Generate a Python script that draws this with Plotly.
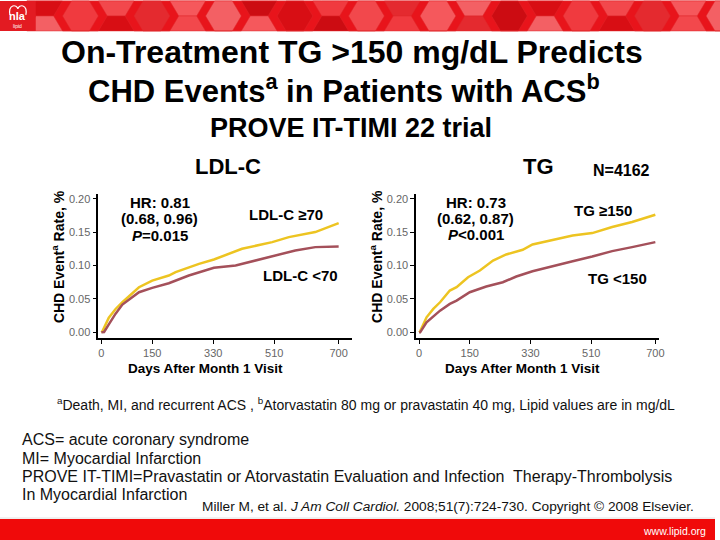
import plotly.graph_objects as go

# ---------------- data ----------------
ldl_ge70_days = [0, 3, 22, 42, 62, 91, 111, 150, 199, 219, 258, 288, 332, 415, 504, 553, 631, 700]
ldl_ge70_rate = [0.0, 0.0015, 0.022, 0.035, 0.045, 0.058, 0.0675, 0.0775, 0.085, 0.09, 0.097, 0.1025, 0.109, 0.125, 0.135, 0.1425, 0.15, 0.1635]

ldl_lt70_days = [0, 8, 22, 42, 62, 91, 111, 150, 199, 258, 332, 396, 455, 513, 572, 631, 700]
ldl_lt70_rate = [0.0, 0.0005, 0.012, 0.028, 0.0415, 0.052, 0.06, 0.0665, 0.0735, 0.085, 0.0965, 0.1, 0.1075, 0.115, 0.1225, 0.1275, 0.1285]

tg_ge150_days = [0, 3, 22, 42, 62, 91, 111, 145, 180, 219, 258, 307, 336, 396, 455, 513, 572, 631, 700]
tg_ge150_rate = [0.0, 0.0015, 0.0225, 0.035, 0.045, 0.0625, 0.0675, 0.0825, 0.0925, 0.1075, 0.1165, 0.1235, 0.1315, 0.1385, 0.145, 0.1485, 0.1575, 0.165, 0.176]

tg_lt150_days = [0, 3, 22, 62, 91, 111, 150, 199, 248, 288, 336, 396, 455, 513, 572, 631, 700]
tg_lt150_rate = [0.0, 0.0, 0.015, 0.0325, 0.0425, 0.0475, 0.06, 0.0685, 0.075, 0.0835, 0.0915, 0.0985, 0.1065, 0.1135, 0.1215, 0.1275, 0.135]

x_ticks = [0, 150, 330, 510, 700]
y_ticks = [0.0, 0.05, 0.10, 0.15, 0.20]

YELLOW = "#EDC421"
MAROON = "#A4505A"
RED = "#E8141B"
FONT = "Liberation Sans, Arial, sans-serif"

W, H = 720, 540


def px(x):
    return x / W


def py(y):
    return 1 - y / H


fig = go.Figure()

fig.add_trace(go.Scatter(x=ldl_ge70_days, y=ldl_ge70_rate, mode="lines",
                         line=dict(color=YELLOW, width=2.5), xaxis="x", yaxis="y", showlegend=False))
fig.add_trace(go.Scatter(x=ldl_lt70_days, y=ldl_lt70_rate, mode="lines",
                         line=dict(color=MAROON, width=2.5), xaxis="x", yaxis="y", showlegend=False))
fig.add_trace(go.Scatter(x=tg_ge150_days, y=tg_ge150_rate, mode="lines",
                         line=dict(color=YELLOW, width=2.5), xaxis="x2", yaxis="y2", showlegend=False))
fig.add_trace(go.Scatter(x=tg_lt150_days, y=tg_lt150_rate, mode="lines",
                         line=dict(color=MAROON, width=2.5), xaxis="x2", yaxis="y2", showlegend=False))

axis_common = dict(showgrid=False, zeroline=False, showline=True, linecolor="black", linewidth=1.5,
                   ticks="outside", ticklen=4, tickcolor="black", tickwidth=1.2,
                   tickfont=dict(family=FONT, size=11, color="#666666"))

fig.update_layout(
    width=W, height=H,
    margin=dict(l=0, r=0, t=0, b=0),
    paper_bgcolor="white", plot_bgcolor="white",
    font=dict(family=FONT, size=12, color="black"),
    xaxis=dict(domain=[px(99), px(354)], range=[-9, 738], tickvals=x_ticks, anchor="y", **axis_common),
    yaxis=dict(domain=[py(338), py(193)], range=[-0.009, 0.2075], tickvals=y_ticks, tickformat=".2f",
               anchor="x", **axis_common),
    xaxis2=dict(domain=[px(419), px(664)], range=[-9, 712], tickvals=x_ticks, anchor="y2", **axis_common),
    yaxis2=dict(domain=[py(338), py(193)], range=[-0.009, 0.2075], tickvals=y_ticks, tickformat=".2f",
                anchor="x2", **axis_common),
)

shapes = []
# top banner
shapes.append(dict(type="rect", xref="paper", yref="paper", x0=0, x1=1, y0=py(30), y1=1,
                   fillcolor=RED, line=dict(width=0), layer="below"))
# hexagon decoration
hex_colors = ["#F2484C", "#D80E14", "#F36064", "#E42A2F", "#F03A3F", "#CC0C12", "#F5585C"]
k = 0
for col in range(20):
    cx = 45 + col * 36
    for row in range(-1, 2):
        cy = row * 30 + (15 if col % 2 else 0)
        r = 18
        pts = [(cx - r, cy), (cx - r / 2, cy - 15), (cx + r / 2, cy - 15), (cx + r, cy),
               (cx + r / 2, cy + 15), (cx - r / 2, cy + 15)]
        pts = [(x, min(max(y, 0), 30)) for x, y in pts]
        path = "M " + " L ".join(f"{px(x):.4f},{py(y):.4f}" for x, y in pts) + " Z"
        shapes.append(dict(type="path", xref="paper", yref="paper", path=path,
                           fillcolor=hex_colors[k % len(hex_colors)], line=dict(width=0.5, color="#E0262B"),
                           layer="below"))
        k += 1
# logo block
shapes.append(dict(type="rect", xref="paper", yref="paper", x0=0, x1=px(36), y0=py(30), y1=1,
                   fillcolor="#E31B22", line=dict(width=0), layer="below"))
shapes.append(dict(type="path", xref="paper", yref="paper",
                   path=f"M {px(10)},{py(14)} C {px(8)},{py(3)} {px(17)},{py(3)} {px(18)},{py(8)} "
                        f"C {px(19)},{py(3)} {px(28)},{py(3)} {px(26)},{py(14)}",
                   line=dict(color="white", width=1.2)))
# bottom bar
shapes.append(dict(type="rect", xref="paper", yref="paper", x0=0, x1=1, y0=0, y1=py(519),
                   fillcolor="#F00A0A", line=dict(width=0), layer="below"))
shapes.append(dict(type="line", xref="paper", yref="paper", x0=0, x1=1, y0=py(518), y1=py(518),
                   line=dict(color="#E0E0E0", width=1)))
fig.update_layout(shapes=shapes)

ann = []


def text(x, y, s, size, bold=False, color="black", xanchor="center", angle=0):
    if bold:
        s = f"<b>{s}</b>"
    ann.append(dict(x=px(x), y=py(y), xref="paper", yref="paper", text=s, showarrow=False,
                    xanchor=xanchor, yanchor="middle", textangle=angle,
                    font=dict(family=FONT, size=size, color=color)))


# logo
text(18, 15, "nla", 11, bold=True, color="white")
text(18, 25, "lipid", 5, color="white")

# titles
text(354, 51, "On-Treatment TG >150 mg/dL Predicts", 32, bold=True)
text(346, 88, "CHD Events<sup>a</sup> in Patients with ACS<sup>b</sup>", 31, bold=True)
text(353, 127, "PROVE IT-TIMI 22 trial", 27, bold=True)

# panel titles
text(230, 166, "LDL-C", 22, bold=True)
text(542, 166, "TG", 22, bold=True)
text(626, 170, "N=4162", 16, bold=True)

# y axis titles
text(58, 256, "CHD Event<sup>a</sup> Rate, %", 14, bold=True, angle=-90)
text(378, 256, "CHD Event<sup>a</sup> Rate, %", 14, bold=True, angle=-90)

# x axis titles
text(207, 368, "Days After Month 1 Visit", 13.5, bold=True)
text(526, 368, "Days After Month 1 Visit", 13.5, bold=True)

# HR blocks
text(161, 202, "HR: 0.81", 15, bold=True)
text(161, 218, "(0.68, 0.96)", 15, bold=True)
text(161, 235, "<i>P</i>=0.015", 15, bold=True)
text(479, 202, "HR: 0.73", 15, bold=True)
text(479, 218, "(0.62, 0.87)", 15, bold=True)
text(479, 234, "<i>P</i>&lt;0.001", 15, bold=True)

# series labels
text(288, 214, "LDL-C ≥70", 15, bold=True)
text(303, 275, "LDL-C &lt;70", 15, bold=True)
text(607, 210, "TG ≥150", 15, bold=True)
text(622, 278, "TG &lt;150", 15, bold=True)

# footnotes
text(369, 404, "<sup>a</sup>Death, MI, and recurrent ACS , <sup>b</sup>Atorvastatin 80 mg or pravastatin 40 mg, Lipid values are in mg/dL",
     14, color="#111111")
text(20, 439, "ACS= acute coronary syndrome", 16, xanchor="left", color="#111111")
text(20, 458, "MI= Myocardial Infarction", 16, xanchor="left", color="#111111")
text(20, 476, "PROVE IT-TIMI=Pravastatin or Atorvastatin Evaluation and Infection  Therapy-Thrombolysis",
     16, xanchor="left", color="#111111")
text(20, 494, "In Myocardial Infarction", 16, xanchor="left", color="#111111")
text(701, 506, "Miller M, et al. <i>J Am Coll Cardiol.</i> 2008;51(7):724-730. Copyright © 2008 Elsevier.",
     13.7, xanchor="right", color="#111111")
text(713, 531, "www.lipid.org", 10.5, xanchor="right", color="white")

fig.update_layout(annotations=ann)

fig.write_html("out.html", config={"displayModeBar": False},
               post_script="document.body.style.margin='0';document.body.style.padding='0';")
